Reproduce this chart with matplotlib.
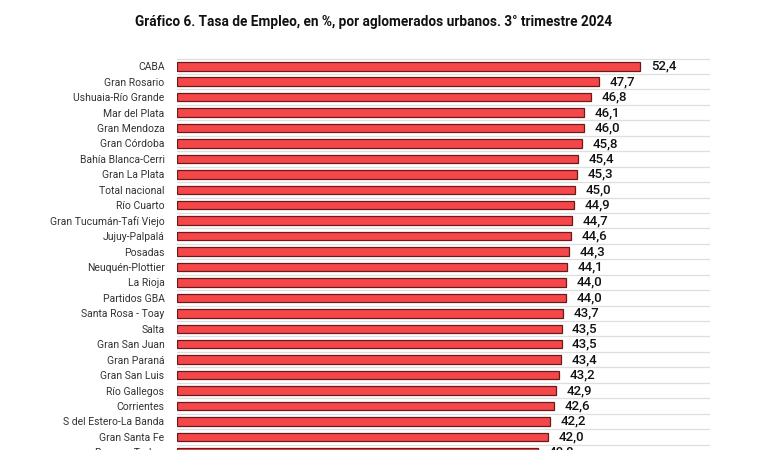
import matplotlib
matplotlib.use("Agg")
import matplotlib.pyplot as plt

categories = ["CABA", "Gran Rosario", "Ushuaia-Río Grande", "Mar del Plata", "Gran Mendoza",
              "Gran Córdoba", "Bahía Blanca-Cerri", "Gran La Plata", "Total nacional", "Río Cuarto",
              "Gran Tucumán-Tafí Viejo", "Jujuy-Palpalá", "Posadas", "Neuquén-Plottier", "La Rioja",
              "Partidos GBA", "Santa Rosa - Toay", "Salta", "Gran San Juan", "Gran Paraná",
              "Gran San Luis", "Río Gallegos", "Corrientes", "S del Estero-La Banda", "Gran Santa Fe",
              "Rawson-Trelew"]
values = [52.4, 47.7, 46.8, 46.1, 46.0, 45.8, 45.4, 45.3, 45.0, 44.9, 44.7, 44.6, 44.3, 44.1,
          44.0, 44.0, 43.7, 43.5, 43.5, 43.4, 43.2, 42.9, 42.6, 42.2, 42.0, 40.8]

plt.rcParams["font.family"] = ["Roboto", "DejaVu Sans"]

fig = plt.figure(figsize=(7.6, 4.5), dpi=100)
fig.patch.set_facecolor("white")
top_px, bot_px = 57, 460
ax = fig.add_axes([177/760, 1 - bot_px/450, (710-177)/760, (bot_px-top_px)/450])

y = list(range(len(categories)))
ax.barh(y, values, height=0.55, color="#F5474A", edgecolor="#6b1a1a", linewidth=0.9, zorder=3)
for yi, v in zip(y, values):
    ax.text(v + 1.2, yi, f"{v:.1f}".replace(".", ","), va="center", ha="left",
            fontsize=9.5, fontweight="medium", color="#111111", zorder=4)

for k in range(len(categories) + 1):
    ax.axhline(k - 0.5, color="#dedede", linewidth=0.9, zorder=1)

ax.set_xlim(0, 60.3)
ax.set_ylim(25.5, -0.6)
ax.set_yticks(y)
ax.set_yticklabels(categories, fontsize=7.5, color="#333333")
ax.tick_params(axis="y", length=0, pad=9)
ax.set_xticks([])
for s in ax.spines.values():
    s.set_visible(False)

fig.text(0.492, 1 - 22/450, "Gráfico 6. Tasa de Empleo, en %, por aglomerados urbanos. 3° trimestre 2024",
         ha="center", va="center", fontsize=9.85, fontweight="bold", color="#111111")

fig.savefig("out.png", dpi=100)
